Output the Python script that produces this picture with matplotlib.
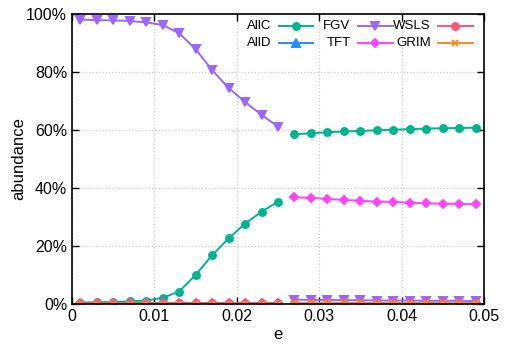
import numpy as np
import matplotlib
matplotlib.use('Agg')
import matplotlib.pyplot as plt
from matplotlib.ticker import PercentFormatter

plt.rcParams['font.family'] = ['Liberation Sans', 'DejaVu Sans']

"""data read off the picture (fractions, 0..1)"""
e = [0.001, 0.003, 0.005, 0.007, 0.009, 0.011, 0.013, 0.015, 0.017, 0.019, 0.021, 0.023, 0.025,
     0.027, 0.029, 0.031, 0.033, 0.035, 0.037, 0.039, 0.041, 0.043, 0.045, 0.047, 0.049]
split = 13  # lines break between e=0.025 and e=0.027

allc = [0.005, 0.006, 0.007, 0.009, 0.012, 0.021, 0.043, 0.100, 0.168, 0.226, 0.277, 0.318, 0.353,
        0.585, 0.589, 0.592, 0.595, 0.597, 0.599, 0.601, 0.603, 0.605, 0.606, 0.607, 0.608]
alld = [0.001, 0.001, 0.001, 0.001, 0.001, 0.001, 0.001, 0.001, 0.001, 0.001, 0.001, 0.001, 0.001,
        0.001, 0.001, 0.001, 0.001, 0.001, 0.001, 0.001, 0.001, 0.001, 0.001, 0.001, 0.001]
fgv = [0.981, 0.979, 0.978, 0.976, 0.971, 0.962, 0.934, 0.879, 0.807, 0.745, 0.697, 0.652, 0.612,
       0.015, 0.014, 0.014, 0.013, 0.013, 0.012, 0.012, 0.012, 0.011, 0.011, 0.011, 0.010]
tft = [0.003, 0.003, 0.003, 0.003, 0.003, 0.003, 0.003, 0.003, 0.003, 0.003, 0.003, 0.003, 0.003,
       0.368, 0.366, 0.362, 0.359, 0.356, 0.353, 0.352, 0.349, 0.347, 0.346, 0.345, 0.344]
wsls = [0.002, 0.002, 0.002, 0.002, 0.002, 0.002, 0.002, 0.002, 0.002, 0.002, 0.002, 0.002, 0.002,
        0.005, 0.005, 0.005, 0.005, 0.005, 0.005, 0.005, 0.005, 0.005, 0.005, 0.005, 0.005]
grim = [0.001, 0.001, 0.001, 0.001, 0.001, 0.001, 0.001, 0.001, 0.001, 0.001, 0.001, 0.001, 0.001,
        0.002, 0.002, 0.002, 0.002, 0.002, 0.002, 0.002, 0.002, 0.002, 0.002, 0.002, 0.002]

labels = ['AllC', 'AllD', 'FGV', 'TFT', 'WSLS', 'GRIM']
series = [allc, alld, fgv, tft, wsls, grim]
colors = ['#00b48c', '#1e90ff', '#9966ff', '#ff44ff', '#ff5577', '#ff8820']
markers = ['o', '^', 'v', 'D', 'o', 'x']
msizes = [5, 5.5, 6, 4, 5, 5]

fig = plt.figure(figsize=(5.12, 3.46), dpi=100)
ax = fig.add_axes([0.1406, 0.1214, 0.8047, 0.8381])

e = np.array(e)
for lab, vals, c, m, ms in zip(labels, series, colors, markers, msizes):
    vals = np.array(vals)
    ax.plot(e[:split], vals[:split], color=c, marker=m, ms=ms, lw=1.4, mew=1.4)
    ax.plot(e[split:], vals[split:], color=c, marker=m, ms=ms, lw=1.4, mew=1.4)

ax.set_xlim(0, 0.05)
ax.set_ylim(0, 1)
ax.set_xticks([0, 0.01, 0.02, 0.03, 0.04, 0.05])
ax.set_xticklabels(['0', '0.01', '0.02', '0.03', '0.04', '0.05'])
ax.set_yticks([0, 0.2, 0.4, 0.6, 0.8, 1.0])
ax.yaxis.set_major_formatter(PercentFormatter(1.0, decimals=0))
ax.tick_params(direction='in', top=True, right=True, labelsize=11.5, length=5, width=1)
ax.grid(True, color='#cccccc', linestyle=':', linewidth=0.9)
for s in ax.spines.values():
    s.set_linewidth(1.2)
ax.set_xlabel('e', fontsize=12, labelpad=2)
ax.set_ylabel('abundance', fontsize=12, labelpad=0)

# gnuplot style key: right aligned text, then sample, filled column by column
text_right = [0.485, 0.676, 0.871]
samp_left = [0.502, 0.694, 0.888]
samp_right = [0.585, 0.779, 0.973]
rows_y = [0.959, 0.901]
for i, (lab, c, m, ms) in enumerate(zip(labels, colors, markers, msizes)):
    col, row = i // 2, i % 2
    y = rows_y[row]
    ax.text(text_right[col], y, lab, transform=ax.transAxes, ha='right', va='center', fontsize=9.5)
    ax.plot([samp_left[col], samp_right[col]], [y, y], color=c, lw=1.4,
            transform=ax.transAxes, clip_on=False)
    ax.plot([(samp_left[col] + samp_right[col]) / 2], [y], color=c, marker=m, ms=ms, mew=1.4,
            transform=ax.transAxes, clip_on=False)

plt.savefig('out.png', dpi=100)
